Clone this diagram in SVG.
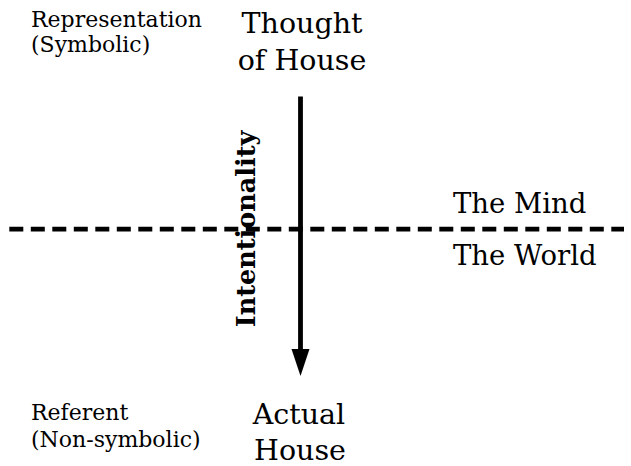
<svg xmlns="http://www.w3.org/2000/svg" width="631" height="466" viewBox="0 0 631 466">
  <style>
    text { font-family: "DejaVu Serif", "Liberation Serif", serif; fill: #000; }
    .small { font-size: 22px; }
    .big { font-size: 28.5px; }
    .side { font-size: 27.5px; }
    .bold { font-size: 25.5px; font-weight: bold; }
    .line { stroke: #000; stroke-width: 4.8; fill: none; }
  </style>

  <g id="connectors">
    <!-- boundary between mind and world -->
    <line id="boundary" class="line" x1="9.3" y1="229.2" x2="624" y2="229.2" stroke-dasharray="14 7.5"/>
    <!-- intentionality arrow, thought down to referent -->
    <line id="intentionality-arrow" class="line" x1="300.5" y1="96.5" x2="300.5" y2="352"/>
    <path d="M291.5,349 L309.5,349 L300.5,376 Z" fill="#000"/>
  </g>

  <g id="representation-label">
    <text class="small" x="31" y="27">Representation</text>
    <text class="small" x="31" y="52">(Symbolic)</text>
  </g>

  <g id="thought">
    <text class="big" x="302" y="33" text-anchor="middle">Thought</text>
    <text class="big" x="302" y="70" text-anchor="middle">of House</text>
  </g>

  <g id="intentionality-label">
    <text class="bold" transform="translate(255,229) rotate(-90)" text-anchor="middle">Intentionality</text>
  </g>

  <g id="mind">
    <text class="side" x="453" y="213">The Mind</text>
  </g>
  <g id="world">
    <text class="side" x="453" y="265">The World</text>
  </g>

  <g id="referent-label">
    <text class="small" x="31" y="420">Referent</text>
    <text class="small" x="31" y="447">(Non-symbolic)</text>
  </g>

  <g id="actual-house">
    <text class="big" x="299" y="424" text-anchor="middle">Actual</text>
    <text class="big" x="300" y="460" text-anchor="middle">House</text>
  </g>
</svg>
